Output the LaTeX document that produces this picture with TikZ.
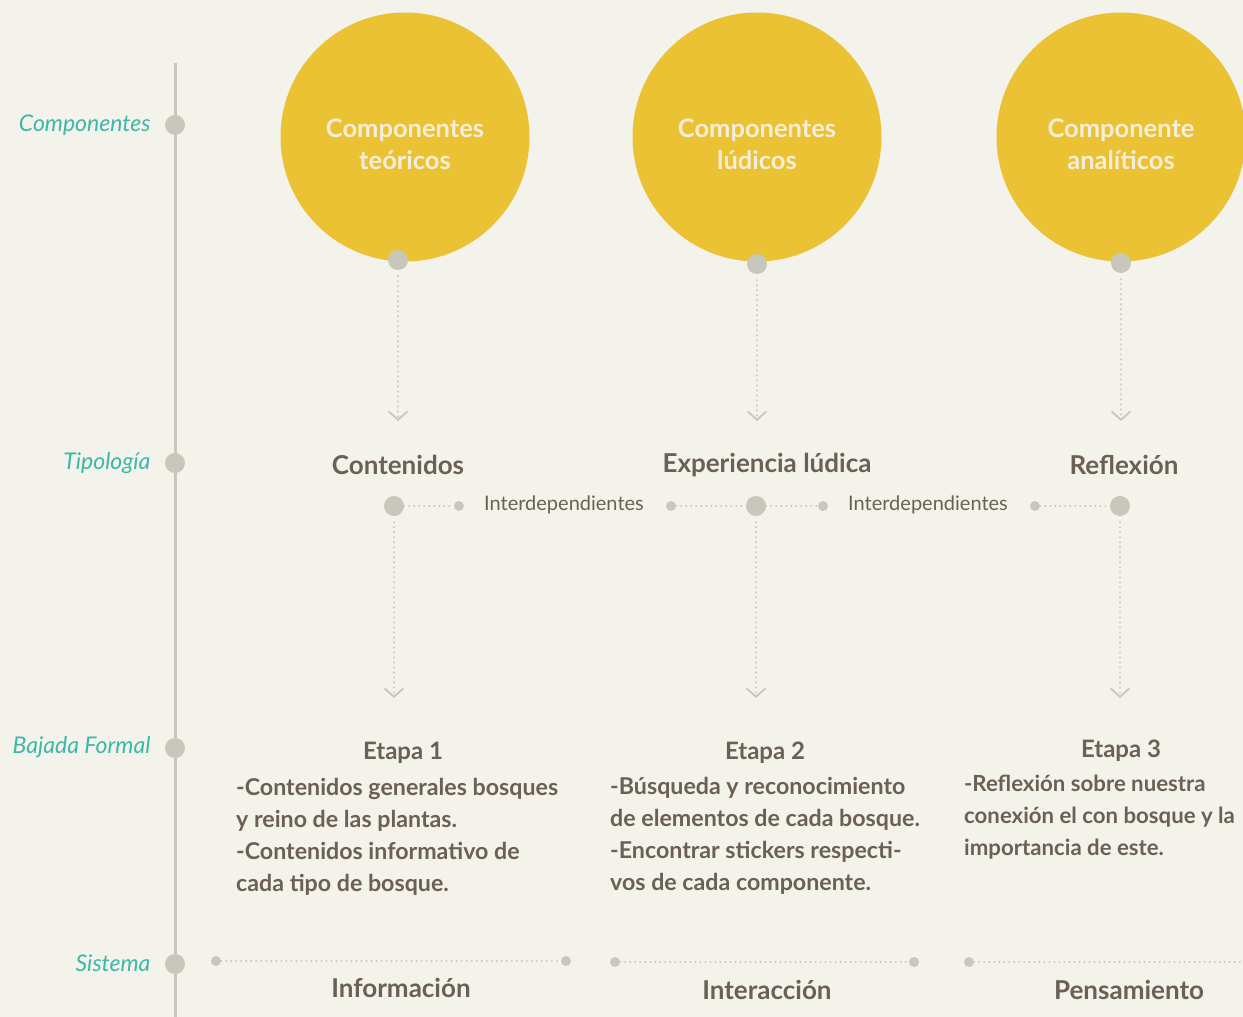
\documentclass[tikz,border=0pt]{standalone}
\usepackage{fontspec}
\setmainfont{Lato}
\usetikzlibrary{arrows.meta}
\definecolor{bg}{HTML}{F3F2EB}
\definecolor{sun}{HTML}{ECC235}
\definecolor{dotg}{HTML}{C8C7BB}
\definecolor{ink}{HTML}{6B6054}
\definecolor{teal}{HTML}{3DB7A7}
\definecolor{cream}{HTML}{F4EEDA}
\tikzset{
  bigdot/.style={circle,fill=dotg,inner sep=0pt,minimum size=20pt},
  smalldot/.style={circle,fill=dotg,inner sep=0pt,minimum size=10pt},
  dotline/.style={draw=dotg,line width=2.2pt,dash pattern=on 0.01pt off 5pt,line cap=round},
  arrowline/.style={dotline,-{Straight Barb[length=8pt,width=18pt,line width=1.8pt,line cap=round]}},
  sidelabel/.style={anchor=east,text=teal,font=\fontsize{23}{26}\selectfont\itshape},
  bigcirc/.style={circle,fill=sun,minimum size=249pt,inner sep=0pt},
  circtext/.style={text=cream,font=\fontsize{25.5}{32}\selectfont\bfseries,align=center},
  typtext/.style={text=ink,font=\fontsize{26}{30}\selectfont\bfseries},
  intext/.style={text=ink,font=\fontsize{20}{24}\selectfont},
  bodytext/.style={text=ink,font=\fontsize{23.2}{32}\selectfont\bfseries,align=left,anchor=north west,inner sep=0pt},
  stagetitle/.style={text=ink,font=\fontsize{24}{28}\selectfont\bfseries},
}
\begin{document}
\begin{tikzpicture}[x=1pt,y=-1pt]
\fill[bg] (0,0) rectangle (1243,1017);
\useasboundingbox (0,0) rectangle (1243,1017);
% timeline
\coordinate (lt) at (175,63);
\coordinate (lb) at (175,1017);
\draw[dotg,line width=3pt] (lt) -- (lb);
\node[bigdot] (d1) at (175,125) {};
\node[bigdot] (d2) at (175,463) {};
\node[bigdot] (d3) at (175,748) {};
\node[bigdot] (d4) at (175,964) {};
\node[sidelabel] (l1) at (154,125) {Componentes};
\node[sidelabel] (l2) at (154,463) {Tipología};
\node[sidelabel] (l3) at (154,747) {Bajada Formal};
\node[sidelabel] (l4) at (154,963) {Sistema};
% circles
\node[bigcirc] (c1) at (405,137) {};
\node[bigcirc] (c2) at (757,137) {};
\node[bigcirc] (c3) at (1121,137) {};
\node[circtext] (t1) at (405,144) {Componentes\\teóricos};
\node[circtext] (t2) at (757,144) {Componentes\\lúdicos};
\node[circtext] (t3) at (1121,144) {Componente\\analíticos};
\node[bigdot] (b1) at (398,260) {};
\node[bigdot] (b2) at (757,264) {};
\node[bigdot] (b3) at (1121,263) {};
\coordinate (a1) at (398,421);
\coordinate (a2) at (757,421);
\coordinate (a3) at (1121,421);
\draw[arrowline] (b1.south) ++(0,6) -- (a1);
\draw[arrowline] (b2.south) ++(0,6) -- (a2);
\draw[arrowline] (b3.south) ++(0,6) -- (a3);
% typology
\node[typtext] (p1) at (398,465) {Contenidos};
\node[typtext] (p2) at (767,465) {Experiencia lúdica};
\node[typtext] (p3) at (1124,465) {Reflexión};
\node[bigdot] (m1) at (394,506) {};
\node[bigdot] (m2) at (756,506) {};
\node[bigdot] (m3) at (1120,506) {};
\node[smalldot] (s1) at (459,506) {};
\node[smalldot] (s2) at (671,506) {};
\node[smalldot] (s3) at (823,506) {};
\node[smalldot] (s4) at (1035,506) {};
\node[intext] (i1) at (564,505) {Interdependientes};
\node[intext] (i2) at (928,505) {Interdependientes};
\draw[dotline] (m1) -- (s1);
\draw[dotline] (s2) -- (m2);
\draw[dotline] (m2) -- (s3);
\draw[dotline] (s4) -- (m3);
\coordinate (e1) at (394,698);
\coordinate (e2) at (756,698);
\coordinate (e3) at (1120,698);
\draw[arrowline] (m1.south) ++(0,6) -- (e1);
\draw[arrowline] (m2.south) ++(0,6) -- (e2);
\draw[arrowline] (m3.south) ++(0,6) -- (e3);
% stages
\node[stagetitle] (g1) at (403,753) {Etapa 1};
\node[stagetitle] (g2) at (765,753) {Etapa 2};
\node[stagetitle] (g3) at (1121,751) {Etapa 3};
\node[bodytext] (x1) at (236,778) {-Contenidos generales bosques\\y reino de las plantas.\\-Contenidos informativo de\\cada tipo de bosque.};
\node[bodytext] (x2) at (610,777) {-Búsqueda y reconocimiento\\de elementos de cada bosque.\\-Encontrar stickers respecti-\\vos de cada componente.};
\node[bodytext,font=\fontsize{22.2}{32}\selectfont\bfseries] (x3) at (964,775) {-Reflexión sobre nuestra\\conexión el con bosque y la\\importancia de este.};
% system
\node[smalldot] (y1) at (216,961) {};
\node[smalldot] (y2) at (566,961) {};
\node[smalldot] (y3) at (615,962) {};
\node[smalldot] (y4) at (914,962) {};
\node[smalldot] (y5) at (969,962) {};
\coordinate (y6) at (1243,962);
\draw[dotline] (y1) -- (y2);
\draw[dotline] (y3) -- (y4);
\draw[dotline] (y5) -- (y6);
\node[typtext] (z1) at (401,988) {Información};
\node[typtext] (z2) at (767,990) {Interacción};
\node[typtext] (z3) at (1129,990) {Pensamiento};
\end{tikzpicture}
\end{document}
